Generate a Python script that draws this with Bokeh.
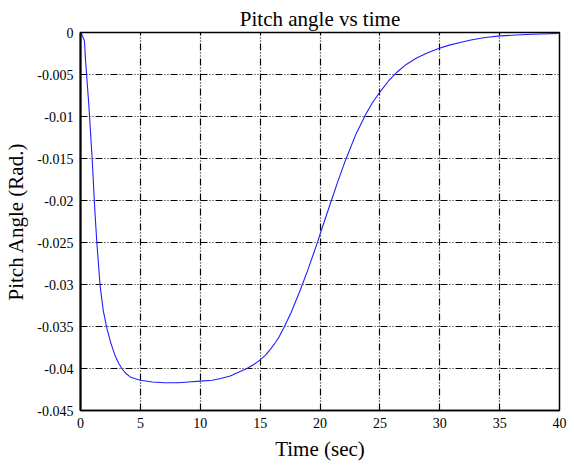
from bokeh.plotting import figure
from bokeh.models import FixedTicker
from bokeh.embed import file_html
from bokeh.resources import INLINE

# Pitch angle response (rad) against time (s)
time_s = [0, 0.1, 0.33, 0.42, 0.69, 0.97, 1.19, 1.36, 1.64, 1.9, 2.2, 2.5, 2.7,
          2.9, 3.2, 3.45, 3.8, 4.15, 4.5, 5.0, 6.0, 7.0, 8.2, 9.0, 10.0, 11.0,
          11.7, 12.5, 13.1, 13.9, 14.5, 14.97, 15.45, 15.87, 16.28, 16.6,
          17.0, 17.6, 18.37, 19.0, 19.76, 20.1, 20.88, 21.5, 22.13, 23.0,
          23.8, 24.4, 25.05, 25.7, 26.45, 27.2, 28.1, 29.0, 29.9, 30.8, 31.7,
          32.6, 33.8, 35.07, 36.4, 37.8, 40.0]
pitch_rad = [0, -0.0002, -0.001, -0.0033, -0.0085, -0.0149, -0.021, -0.0249,
             -0.0302, -0.0331, -0.0352, -0.0368, -0.0377, -0.0385, -0.0394,
             -0.0400, -0.0406, -0.0410, -0.0412, -0.0414, -0.0416, -0.0417,
             -0.0417, -0.0416, -0.0415, -0.0414, -0.0412, -0.0409, -0.0405,
             -0.0400, -0.0395, -0.0390, -0.0384, -0.0377, -0.0369, -0.0362,
             -0.0351, -0.0333, -0.0306, -0.0282, -0.0251, -0.0236, -0.0203,
             -0.0177, -0.0152, -0.0121, -0.0098, -0.0083, -0.0070, -0.0058,
             -0.0047, -0.0038, -0.0030, -0.0024, -0.0019, -0.0015, -0.0012,
             -0.0009, -0.0006, -0.0004, -0.0003, -0.0002, -0.0001]

x_ticks = [0, 5, 10, 15, 20, 25, 30, 35, 40]
y_ticks = [0, -0.005, -0.01, -0.015, -0.02, -0.025, -0.03, -0.035, -0.04, -0.045]
y_tick_labels = ["0", "-0.005", "-0.01", "-0.015", "-0.02", "-0.025", "-0.03",
                 "-0.035", "-0.04", "-0.045"]

FONT = "Liberation Serif"

p = figure(width=574, height=465, output_backend="svg", toolbar_location=None,
           x_range=(0, 40), y_range=(-0.045, 0),
           min_border_left=80, min_border_right=15,
           min_border_top=32, min_border_bottom=55,
           title="Pitch angle vs time")

p.title.align = "center"
p.title.text_font = FONT
p.title.text_font_size = "21px"
p.title.text_font_style = "normal"
p.title.text_color = "black"
p.title.standoff = 3

p.line(time_s, pitch_rad, line_color="#1f1fff", line_width=1.1)

# frame
p.outline_line_color = "black"
p.outline_line_width = 1.5
p.outline_line_alpha = 1.0
p.background_fill_color = "white"
p.border_fill_color = "white"

# dash-dot grid
for g in (p.xgrid, p.ygrid):
    g.grid_line_color = "black"
    g.grid_line_width = 1.2
    g.grid_line_dash = "7 2 1 2 1 2"
    g.grid_line_alpha = 1.0

p.xaxis.ticker = FixedTicker(ticks=x_ticks)
p.yaxis.ticker = FixedTicker(ticks=y_ticks)
p.yaxis.major_label_overrides = dict(zip(y_ticks, y_tick_labels))

for ax in (p.xaxis, p.yaxis):
    ax.major_tick_out = 0
    ax.major_tick_in = 4
    ax.minor_tick_out = 0
    ax.minor_tick_in = 0
    ax.major_tick_line_color = "black"
    ax.axis_line_color = "black"
    ax.major_label_text_font = FONT
    ax.major_label_text_font_size = "14px"
    ax.major_label_text_color = "black"
    ax.axis_label_text_font = FONT
    ax.axis_label_text_font_size = "21px"
    ax.axis_label_text_font_style = "normal"
    ax.axis_label_text_color = "black"

p.yaxis.axis_line_width = 2
p.xaxis.axis_line_width = 1.5
p.xaxis.major_label_standoff = 7
p.yaxis.major_label_standoff = 7
p.xaxis.axis_label = "Time (sec)"
p.yaxis.axis_label = "Pitch Angle (Rad.)"
p.xaxis.axis_label_standoff = 6
p.yaxis.axis_label_standoff = 6

open("out.html", "w").write(file_html(p, INLINE))
